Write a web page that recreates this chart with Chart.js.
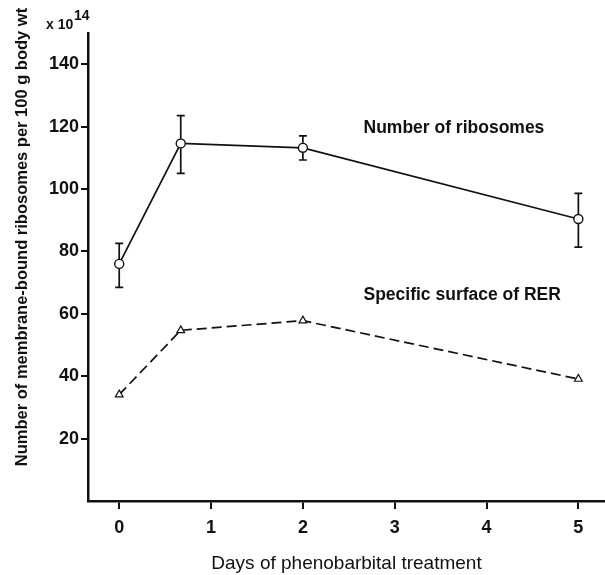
<!DOCTYPE html>
<html>
<head>
<meta charset="utf-8">
<script src="https://cdn.jsdelivr.net/npm/chart.js@4/dist/chart.umd.min.js"></script>
<style>
  html, body { margin: 0; padding: 0; background: #fff; }
  #wrap { width: 605px; height: 575px; position: relative; }
</style>
</head>
<body>
<div id="wrap"><canvas id="c" width="605" height="575"></canvas></div>
<script>
// Days of phenobarbital treatment at which samples were taken
const days = [0, 0.67, 2, 5];
// Membrane-bound ribosomes per 100 g body wt (x 10^14), mean and error-bar limits
const ribosomes = [76, 114.6, 113.2, 90.4];
const ribosomesHigh = [82.6, 123.5, 117, 98.6];
const ribosomesLow = [68.5, 105, 109.3, 81.4];
// Specific surface of rough endoplasmic reticulum, same units
const rerSurface = [34.1, 54.7, 57.8, 39.1];
// Axis tick labels
const xTicks = [0, 1, 2, 3, 4, 5];
const yTicks = [20, 40, 60, 80, 100, 120, 140];

const FONT = '"Liberation Sans", Arial, Helvetica, sans-serif';
const INK = '#111';

const toPoints = (xs, ys) => xs.map((x, i) => ({ x, y: ys[i] }));

// Error bars with short caps, drawn in data space
const errorBars = {
  id: 'errorBars',
  afterDatasetsDraw(chart) {
    const { ctx, scales: { x, y } } = chart;
    ctx.save();
    ctx.strokeStyle = INK;
    ctx.lineWidth = 1.7;
    days.forEach((d, i) => {
      const px = x.getPixelForValue(d);
      const top = y.getPixelForValue(ribosomesHigh[i]);
      const bot = y.getPixelForValue(ribosomesLow[i]);
      const mid = y.getPixelForValue(ribosomes[i]);
      const r = 5;
      ctx.beginPath();
      ctx.moveTo(px, top); ctx.lineTo(px, mid - r);
      ctx.moveTo(px, mid + r); ctx.lineTo(px, bot);
      ctx.moveTo(px - 4, top); ctx.lineTo(px + 4, top);
      ctx.moveTo(px - 4, bot); ctx.lineTo(px + 4, bot);
      ctx.stroke();
    });
    ctx.restore();
  }
};

// Axis title, exponent note and series labels
const labels = {
  id: 'labels',
  afterDraw(chart) {
    const { ctx, scales: { x, y } } = chart;
    ctx.save();
    ctx.fillStyle = INK;
    ctx.textBaseline = 'middle';

    // y-axis title
    ctx.save();
    ctx.translate(22, 237);
    ctx.rotate(-Math.PI / 2);
    ctx.textAlign = 'center';
    ctx.font = 'bold 16.5px ' + FONT;
    ctx.fillText('Number of membrane-bound ribosomes per 100 g body wt', 0, 0);
    ctx.restore();

    // exponent above the y axis
    ctx.textAlign = 'left';
    ctx.textBaseline = 'alphabetic';
    ctx.font = 'bold 14px ' + FONT;
    ctx.fillText('x 10', 46, 29);
    ctx.fillText('14', 74, 20);

    // series labels
    ctx.textBaseline = 'middle';
    ctx.font = 'bold 17.5px ' + FONT;
    ctx.fillText('Number of ribosomes', x.getPixelForValue(2.66), y.getPixelForValue(119.5));
    ctx.fillText('Specific surface of RER', x.getPixelForValue(2.66), y.getPixelForValue(66));
    ctx.restore();
  }
};

new Chart(document.getElementById('c'), {
  type: 'line',
  data: {
    datasets: [
      {
        label: 'Number of ribosomes',
        data: toPoints(days, ribosomes),
        borderColor: INK,
        borderWidth: 1.7,
        pointStyle: 'circle',
        pointRadius: 4.5,
        pointBackgroundColor: '#fff',
        pointBorderColor: INK,
        pointBorderWidth: 1.4,
        tension: 0
      },
      {
        label: 'Specific surface of RER',
        data: toPoints(days, rerSurface),
        borderColor: INK,
        borderWidth: 1.7,
        borderDash: [10, 5],
        pointStyle: 'triangle',
        pointRadius: 4.5,
        pointBackgroundColor: '#fff',
        pointBorderColor: INK,
        pointBorderWidth: 1.2,
        tension: 0
      }
    ]
  },
  options: {
    responsive: false,
    animation: false,
    layout: { autoPadding: false, padding: { top: 33, right: 0, left: 0, bottom: 0 } },
    plugins: { legend: { display: false }, tooltip: { enabled: false } },
    scales: {
      x: {
        type: 'linear',
        min: -0.34,
        max: 5.29,
        afterBuildTicks(scale) { scale.ticks = xTicks.map(v => ({ value: v })); },
        afterFit(scale) { scale.height = 74; scale.paddingLeft = 0; scale.paddingRight = 0; },
        border: { display: true, color: INK, width: 2.5 },
        grid: { drawOnChartArea: false, drawTicks: true, tickLength: 8, color: INK, lineWidth: 2 },
        ticks: { color: INK, padding: 8, maxRotation: 0, font: { family: FONT, size: 18, weight: 'bold' } },
        title: {
          display: true,
          text: 'Days of phenobarbital treatment',
          color: INK,
          padding: { top: 0, bottom: 2 },
          font: { family: FONT, size: 19, lineHeight: 1 }
        }
      },
      y: {
        type: 'linear',
        min: 0,
        max: 150,
        afterBuildTicks(scale) { scale.ticks = yTicks.map(v => ({ value: v })); },
        afterFit(scale) { scale.width = 88; },
        border: { display: true, color: INK, width: 2.5 },
        grid: { drawOnChartArea: false, drawTicks: true, tickLength: 7, color: INK, lineWidth: 2 },
        ticks: { color: INK, padding: 2, font: { family: FONT, size: 18, weight: 'bold' } }
      }
    }
  },
  plugins: [errorBars, labels]
});
</script>
</body>
</html>
